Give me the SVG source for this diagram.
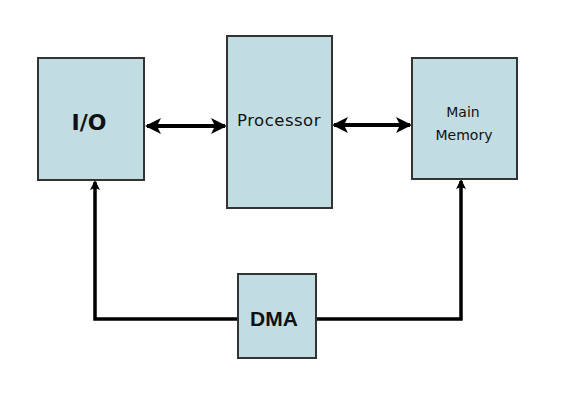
<svg xmlns="http://www.w3.org/2000/svg" width="584" height="400" viewBox="0 0 584 400">
<style>
.box{fill:#c2dde1;stroke:#333;stroke-width:2}
.lbl{fill:#111;text-anchor:middle}
.io{font-family:"DejaVu Sans",Verdana,sans-serif;font-weight:bold;font-size:22px}
.dma{font-family:"Liberation Sans",Arial,sans-serif;font-weight:bold;font-size:21px}
.n{font-family:"DejaVu Sans",Verdana,sans-serif;font-size:16.5px;letter-spacing:0.5px}
.s{font-family:"DejaVu Sans",Verdana,sans-serif;font-size:14px}
.ln{fill:none;stroke:#000;stroke-width:3.5}
.dbl{fill:none;stroke:#000;stroke-width:4}
</style>
<defs>
<marker id="ah" markerWidth="10" markerHeight="10" refX="8" refY="5" orient="auto-start-reverse" markerUnits="userSpaceOnUse" viewBox="0 0 10 10">
<path d="M0,0 L10,5 L0,10 L2,5 Z" fill="#000"/>
</marker>
<marker id="ah2" markerWidth="16" markerHeight="16" refX="14" refY="8" orient="auto-start-reverse" markerUnits="userSpaceOnUse" viewBox="0 0 16 16">
<path d="M0,0 L16,8 L0,16 L4,8 Z" fill="#000"/>
</marker>
</defs>
<rect width="584" height="400" fill="#fff"/>
<g id="connectors">
<line class="dbl" x1="147" y1="126" x2="225" y2="126" marker-start="url(#ah2)" marker-end="url(#ah2)"/>
<line class="dbl" x1="334" y1="125" x2="410" y2="125" marker-start="url(#ah2)" marker-end="url(#ah2)"/>
<path class="ln" d="M238,319 H95 V182" marker-end="url(#ah)"/>
<path class="ln" d="M316,319 H461 V181" marker-end="url(#ah)"/>
</g>
<g id="io">
<rect class="box" x="38" y="58" width="106" height="122"/>
<text class="lbl io" x="89" y="130">I/O</text>
</g>
<g id="processor">
<rect class="box" x="227" y="36" width="105" height="172"/>
<text class="lbl n" x="279" y="125.5">Processor</text>
</g>
<g id="memory">
<rect class="box" x="412" y="58" width="105" height="121"/>
<text class="lbl s" x="463" y="116.5">Main</text>
<text class="lbl s" x="464" y="140">Memory</text>
</g>
<g id="dma">
<rect class="box" x="238" y="274" width="78" height="84"/>
<text class="lbl dma" x="274" y="326">DMA</text>
</g>
</svg>
